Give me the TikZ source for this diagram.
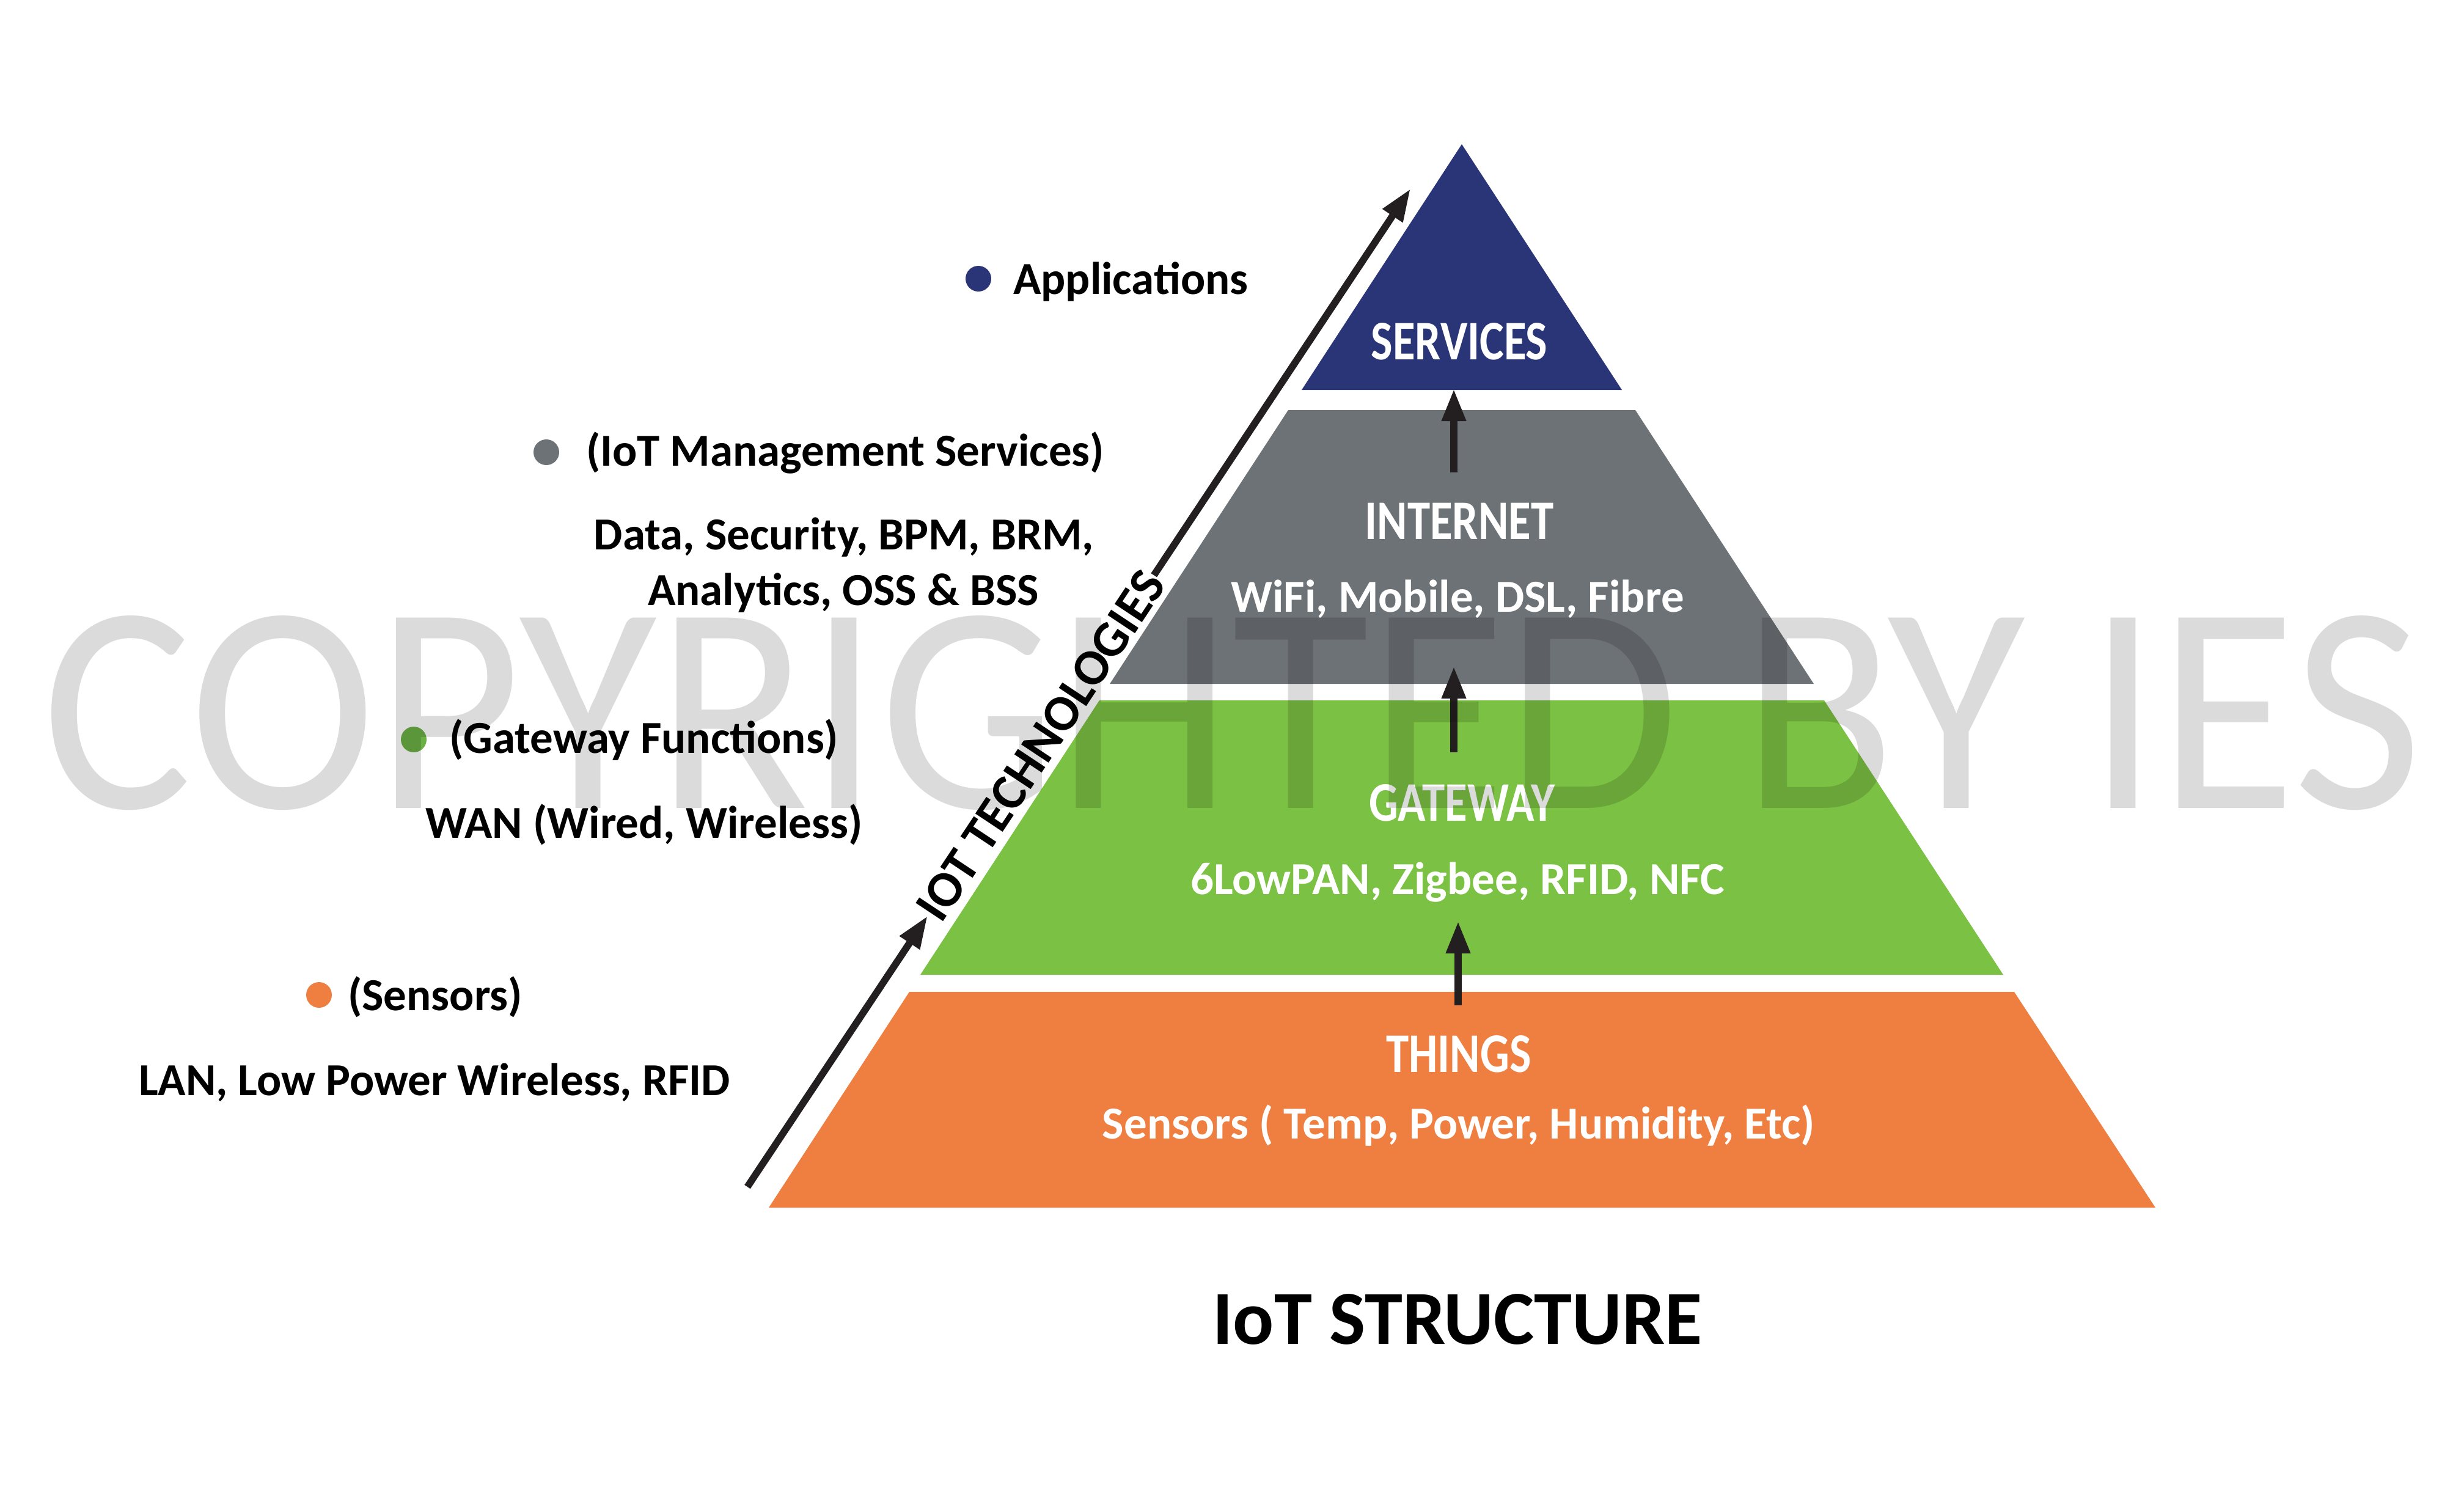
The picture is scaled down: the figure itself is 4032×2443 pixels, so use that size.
\documentclass[tikz,border=0pt]{standalone}
\usepackage{fontspec}
\setmainfont{Carlito}
\newfontfamily\condfont[FakeStretch=0.82]{Carlito}
\usetikzlibrary{arrows.meta}
\definecolor{navy}{RGB}{41,53,119}
\definecolor{slate}{RGB}{109,114,119}
\definecolor{leaf}{RGB}{123,193,67}
\definecolor{leafdot}{RGB}{106,176,68}
\definecolor{tangerine}{RGB}{239,127,65}
\definecolor{arrowblack}{RGB}{35,31,32}

\begin{document}
\begin{tikzpicture}[x=0.2pt,y=-0.2pt,
dot/.style = {circle, fill=#1, inner sep=0pt, minimum size=8.4pt},
lbl/.style = {inner sep=0pt, font=\bfseries\fontsize{15}{17}\selectfont},
head/.style = {inner sep=0pt, text=white, font=\condfont\bfseries\fontsize{18.3}{20}\selectfont},
sub/.style = {inner sep=0pt, text=white, font=\bfseries\fontsize{15}{17}\selectfont},
flow/.style = {draw=arrowblack, line width=2.5pt, -{Triangle[length=10.6pt,width=7.4pt]}}]
\useasboundingbox (0,0) rectangle (4032,2443);

% pyramid layers
\fill[navy] (2392,236) -- (2654,638) -- (2130,638) -- cycle;
\fill[slate] (2108,671) -- (2676,671) -- (2968,1119) -- (1816,1119) -- cycle;
\fill[leaf] (1799,1146) -- (2985,1146) -- (3278,1595) -- (1506,1595) -- cycle;
\fill[tangerine] (1488,1623) -- (3296,1623) -- (3527,1976) -- (1258,1976) -- cycle;

    \node[head, anchor=base] (services) at (2388,588) {SERVICES};
    \node[head, anchor=base] (internet) at (2388,882) {INTERNET};
    \node[sub, anchor=base] (internet-sub) at (2385,1001) {WiFi, Mobile, DSL, Fibre};
    \node[head, anchor=base] (gateway) at (2392,1343) {GATEWAY};
    \node[sub, anchor=base] (gateway-sub) at (2385,1463) {6LowPAN, Zigbee, RFID, NFC};
    \node[head, anchor=base] (things) at (2387,1754) {THINGS};
    \node[sub, anchor=base] (things-sub) at (2387,1863) {Sensors ( Temp, Power, Humidity, Etc)};

% arrows between layers
\coordinate (internet-out) at (2379,773);
\coordinate (services-in) at (2379,636);
\coordinate (gateway-out) at (2379,1231);
\coordinate (internet-in) at (2379,1090);
\coordinate (things-out) at (2386,1645);
\coordinate (gateway-in) at (2386,1507);
\draw[flow] (internet-out) -- (services-in);
\draw[flow] (gateway-out) -- (internet-in);
\draw[flow] (things-out) -- (gateway-in);

% technologies arrow
\node[inner sep=0pt, rotate=56.4, font=\bfseries\fontsize{16.6}{18}\selectfont] (tech) at (1703,1220) {IOT TECHNOLOGIES};
\coordinate (tech-start) at (1223,1942);
\coordinate (tech-end) at (2308,309);
\draw[flow, line width=2.3pt] (tech-start) -- (tech.west);
\draw[flow, line width=2.3pt] (tech.east) -- (tech-end);

% left labels
    \node[dot=navy] (app-dot) at (1601,456) {};
    \node[lbl, anchor=base west] (app) at (1657,481) {Applications};
    \node[dot=slate] (mgmt-dot) at (894,740) {};
    \node[lbl, anchor=base west] (mgmt) at (958,762) {(IoT Management Services)};
    \node[lbl, anchor=base] (mgmt-a) at (1381,899) {Data, Security, BPM, BRM,};
    \node[lbl, anchor=base] (mgmt-b) at (1380,990) {Analytics, OSS \& BSS};
    \node[dot=leafdot] (gw-dot) at (677,1210) {};
    \node[lbl, anchor=base west] (gw) at (734,1232) {(Gateway Functions)};
    \node[lbl, anchor=base west] (gw-a) at (695,1371) {WAN (Wired, Wireless)};
    \node[dot=tangerine] (sens-dot) at (522,1628) {};
    \node[lbl, anchor=base west] (sens) at (568,1653) {(Sensors)};
    \node[lbl, anchor=base west] (sens-a) at (226,1792) {LAN, Low Power Wireless, RFID};

\node[anchor=base, inner sep=0pt, font=\bfseries\fontsize{25}{28}\selectfont] (title) at (2385,2199) {IoT STRUCTURE};

% watermark
\node[inner sep=0pt, text=black, text opacity=0.14] (mark) at (2017,1167) {\resizebox{779pt}{63pt}{\fontsize{100}{100}\selectfont COPYRIGHTED BY IES}};

\end{tikzpicture}
\end{document}
